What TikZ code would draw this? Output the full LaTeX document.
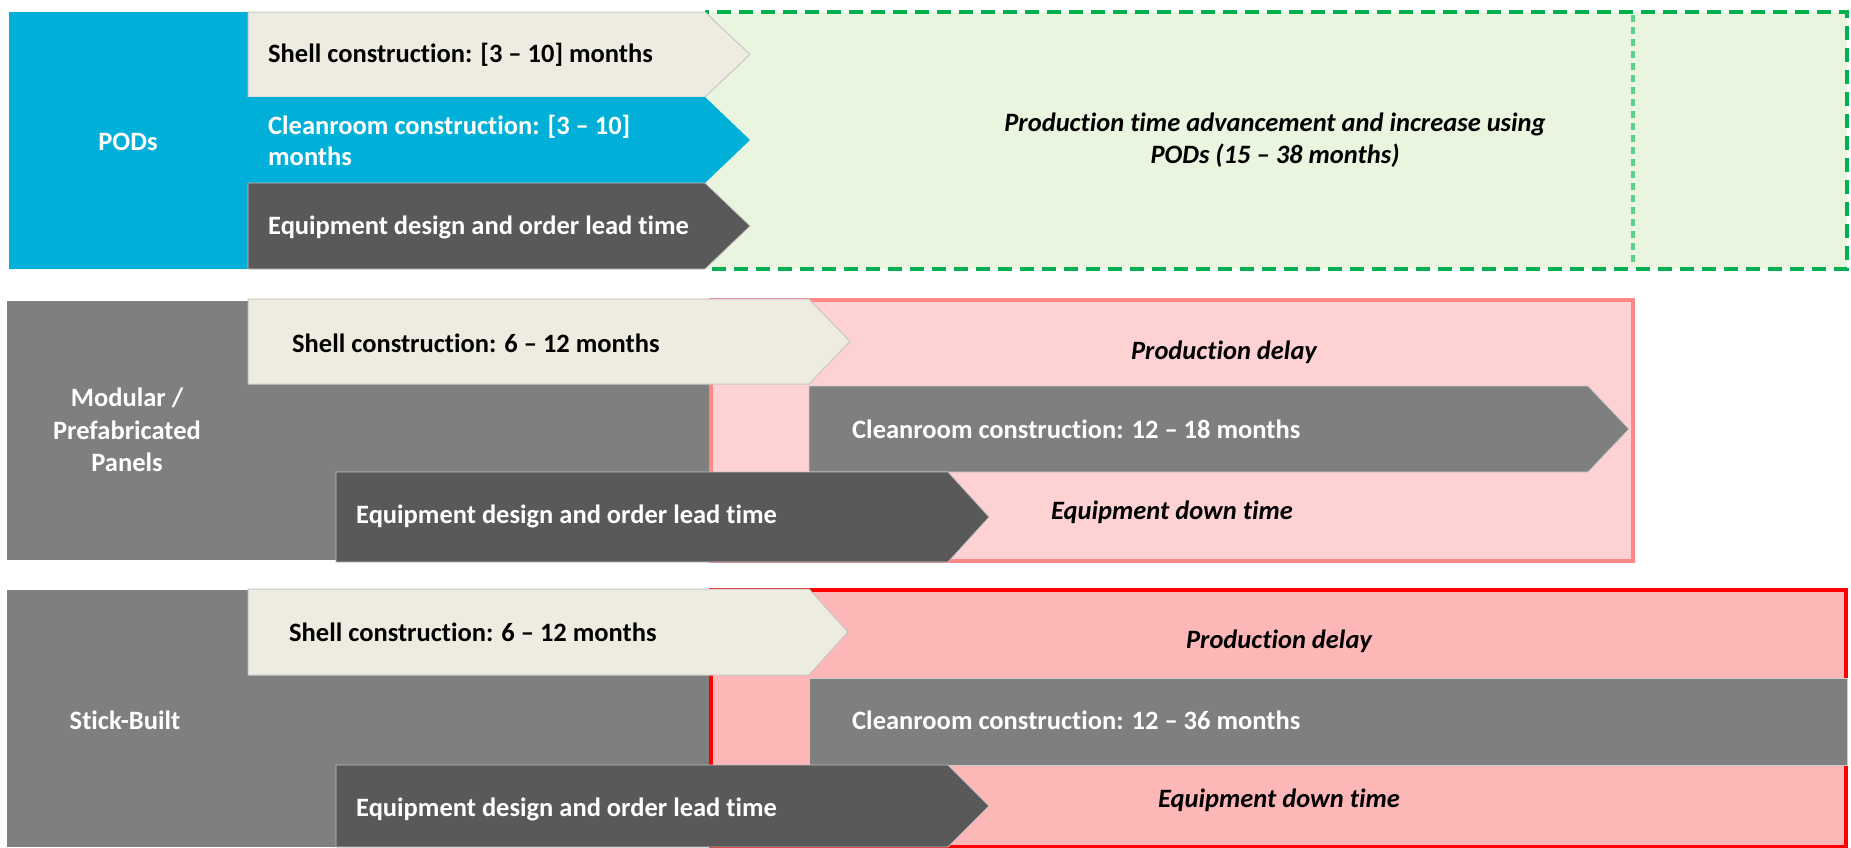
\documentclass[tikz,border=0pt]{standalone}
\usepackage{fontspec}
\setmainfont{Carlito}[Ligatures=NoCommon]
\usetikzlibrary{positioning}
\definecolor{podblue}{RGB}{0,176,216}
\definecolor{shellbeige}{RGB}{238,236,225}
\definecolor{darkgrey}{RGB}{89,89,89}
\definecolor{midgrey}{RGB}{127,127,127}
\definecolor{gainfill}{RGB}{233,245,223}
\definecolor{gainline}{RGB}{0,176,80}
\definecolor{gaindot}{RGB}{90,208,140}
\definecolor{delayfill}{RGB}{254,210,210}
\definecolor{delayline}{RGB}{255,135,135}
\definecolor{stickfill}{RGB}{253,183,183}
\definecolor{stickline}{RGB}{255,0,0}

% chevron: x1, y1, body end, tip, y2, style
\newcommand{\chevron}[6]{%
  \path[#6] (#1,#2) -- (#3,#2) -- (#4,{(#2+#5)/2}) -- (#3,#5) -- (#1,#5) -- cycle;}

\begin{document}
\begin{tikzpicture}[x=1pt,y=-1pt,
  lbl/.style={font=\bfseries\fontsize{26.5}{31}\selectfont,anchor=west,
    inner sep=0pt,align=left},
  wlbl/.style={lbl,text=white},
  head/.style={font=\bfseries\fontsize{26.5}{32.5}\selectfont,text=white,
    inner sep=0pt,align=center},
  note/.style={font=\bfseries\itshape\fontsize{26.5}{32}\selectfont,
    inner sep=0pt,align=center},
  beige/.style={fill=shellbeige,draw=black!22,line width=1pt},
  blue/.style={fill=podblue},
  dark/.style={fill=darkgrey,draw=black!25,line width=.8pt},
  grey/.style={fill=midgrey,draw=black!20,line width=.8pt}]
\useasboundingbox (0,0) rectangle (1851,847);

% PODs
\fill[podblue] (9,12) rectangle (248,269);
\fill[gainfill] (705,12) rectangle (1847,269);
\draw[gaindot,line width=4pt,dash pattern=on 7pt off 5pt] (1633,15) -- (1633,266);
\draw[gainline,line width=4.5pt,dash pattern=on 14pt off 8pt] (705,12) rectangle (1847,269);
\chevron{248}{12}{705}{750}{97}{beige}
\chevron{248}{97}{705}{750}{183}{blue}
\chevron{248}{183}{705}{750}{269}{dark}
\node[head] (podsHead) at (128,142) {PODs};
\node[lbl] (podsShell) at (268,55) {Shell construction: [3 -- 10] months};
\node[wlbl] (podsClean) at (268,140) {Cleanroom construction: [3 -- 10]\\months};
\node[wlbl] (podsEquip) at (268,227) {Equipment design and order lead time};
\node[note] (podsGain) at (1275,140)
  {Production time advancement and increase using\\PODs (15 -- 38 months)};

% Modular / prefabricated panels
\fill[midgrey] (7,301) rectangle (711,560);
\draw[delayline,fill=delayfill,line width=4.5pt] (711,300) rectangle (1633,561);
\chevron{248}{299}{809}{850}{384}{beige}
\chevron{809}{386}{1588}{1629}{472}{grey}
\chevron{336}{472}{948}{989}{562}{dark}
\node[head] (modHead) at (127,430) {Modular /\\Prefabricated\\Panels};
\node[lbl] (modShell) at (292,343) {Shell construction: 6 -- 12 months};
\node[wlbl] (modClean) at (852,429) {Cleanroom construction: 12 -- 18 months};
\node[wlbl] (modEquip) at (356,516) {Equipment design and order lead time};
\node[note] (modDelay) at (1224,352) {Production delay};
\node[note] (modDown) at (1172,512) {Equipment down time};

% Stick-built
\fill[midgrey] (7,590) rectangle (711,847);
\draw[stickline,fill=stickfill,line width=4pt] (711,590) rectangle (1846,847);
\chevron{248}{589}{809}{848}{675}{beige}
\path[grey] (809,678) rectangle (1847,765);
\chevron{336}{765}{948}{989}{847}{dark}
\node[head] (stickHead) at (125,720) {Stick-Built};
\node[lbl] (stickShell) at (289,632) {Shell construction: 6 -- 12 months};
\node[wlbl] (stickClean) at (852,720) {Cleanroom construction: 12 -- 36 months};
\node[wlbl] (stickEquip) at (356,809) {Equipment design and order lead time};
\node[note] (stickDelay) at (1279,641) {Production delay};
\node[note] (stickDown) at (1279,800) {Equipment down time};
\end{tikzpicture}
\end{document}
